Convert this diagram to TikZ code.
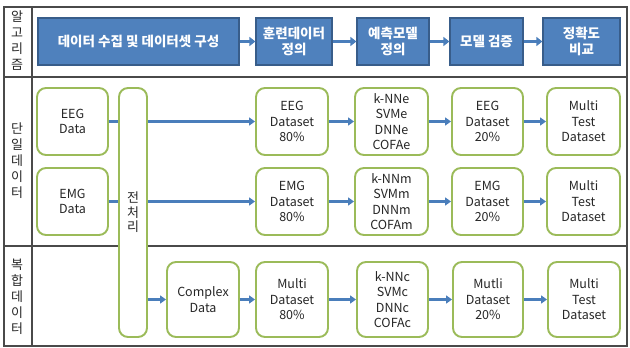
\documentclass[tikz,border=0pt]{standalone}
\usepackage{fontspec}
\setmainfont{Noto Sans CJK KR}
\usetikzlibrary{arrows.meta}
\definecolor{bfill}{HTML}{4F81BD}
\definecolor{bdraw}{HTML}{385D8A}
\definecolor{gdraw}{HTML}{9BBB59}
\definecolor{arr}{HTML}{4A7EBB}
\definecolor{frame}{HTML}{4A4A4A}
\tikzset{
  topbox/.style={draw=bdraw, fill=bfill, line width=1.2pt, text=white, font=\fontsize{13.5}{16}\selectfont\bfseries, align=center, inner sep=0pt, minimum height=47pt},
  gbox/.style={draw=gdraw, fill=white, line width=1.9pt, rounded corners=9pt, align=center, inner sep=0pt, font=\fontsize{12.5}{15.5}\selectfont, text=black!85},
  toparr/.style={draw=arr, line width=3pt, -{Triangle[length=6pt,width=9pt]}},
  rowarr/.style={draw=arr, line width=2.4pt, -{Triangle[length=6pt,width=8pt]}},
  rowline/.style={draw=arr, line width=2.4pt},
  sidelab/.style={align=center, inner sep=0pt, font=\fontsize{13}{16}\selectfont, text=black!85},
  tline/.style={draw=frame, line width=1.8pt}
}
\begin{document}
\begin{tikzpicture}[x=1pt,y=-1pt]
\useasboundingbox (0,0) rectangle (630,348);
% table frame
\draw[tline] (4,7) rectangle (627,346);
\draw[tline] (4,77) -- (627,77);
\draw[tline] (4,246) -- (627,246);
\draw[tline] (32,7) -- (32,346);
% side labels
\node[sidelab] (l1) at (17,41) {알\\고\\리\\즘};
\node[sidelab] (l2) at (17,161) {단\\일\\데\\이\\터};
\node[sidelab] (l3) at (17,297) {복\\합\\데\\이\\터};
% top row
\node[topbox, minimum width=201pt] (b1) at (138.5,41.5) {데이터 수집 및 데이터셋 구성};
\node[topbox, minimum width=76pt] (b2) at (294,41.5) {훈련데이터\\정의};
\node[topbox, minimum width=72pt] (b3) at (393,41.5) {예측모델\\정의};
\node[topbox, minimum width=73pt] (b4) at (486.5,41.5) {모델 검증};
\node[topbox, minimum width=77pt] (b5) at (581.5,41.5) {정확도\\비교};
\draw[toparr] (b1) -- (b2);
\draw[toparr] (b2) -- (b3);
\draw[toparr] (b3) -- (b4);
\draw[toparr] (b4) -- (b5);
% preprocessing
\node[gbox, minimum width=28pt, minimum height=249pt, font=\fontsize{13}{14.5}\selectfont] (pre) at (133,212.5) {전\\처\\리};
% row 1
\node[gbox, minimum width=71pt, minimum height=67pt] (eeg) at (72.5,121.5) {EEG\\Data};
\node[gbox, minimum width=72pt, minimum height=67pt] (eeg80) at (292,121.5) {EEG\\Dataset\\80\%};
\node[gbox, minimum width=73pt, minimum height=67pt] (mode) at (391.5,121.5) {k-NNe\\SVMe\\DNNe\\COFAe};
\node[gbox, minimum width=71pt, minimum height=67pt] (eeg20) at (487.5,121.5) {EEG\\Dataset\\20\%};
\node[gbox, minimum width=73pt, minimum height=67pt] (mte) at (583.5,121.5) {Multi\\Test\\Dataset};
% row 2
\node[gbox, minimum width=71pt, minimum height=67pt] (emg) at (72.5,201.5) {EMG\\Data};
\node[gbox, minimum width=72pt, minimum height=67pt] (emg80) at (292,201.5) {EMG\\Dataset\\80\%};
\node[gbox, minimum width=73pt, minimum height=67pt] (modm) at (391.5,201.5) {k-NNm\\SVMm\\DNNm\\COFAm};
\node[gbox, minimum width=71pt, minimum height=67pt] (emg20) at (487.5,201.5) {EMG\\Dataset\\20\%};
\node[gbox, minimum width=73pt, minimum height=67pt] (mtm) at (583.5,201.5) {Multi\\Test\\Dataset};
% row 3
\node[gbox, minimum width=72pt, minimum height=75pt] (cpx) at (203,299.5) {Complex\\Data};
\node[gbox, minimum width=72pt, minimum height=75pt] (mul80) at (292,299.5) {Multi\\Dataset\\80\%};
\node[gbox, minimum width=71pt, minimum height=75pt] (modc) at (392.5,299.5) {k-NNc\\SVMc\\DNNc\\COFAc};
\node[gbox, minimum width=70pt, minimum height=75pt] (mul20) at (488,299.5) {Mutli\\Dataset\\20\%};
\node[gbox, minimum width=72pt, minimum height=75pt] (mtc) at (584,299.5) {Multi\\Test\\Dataset};
% connectors
\draw[rowline] (eeg.east) -- (pre.west |- eeg.east);
\draw[rowarr] (pre.east |- eeg80.west) -- (eeg80.west);
\draw[rowarr] (eeg80) -- (mode);
\draw[rowarr] (mode) -- (eeg20);
\draw[rowarr] (eeg20) -- (mte);
\draw[rowline] (emg.east) -- (pre.west |- emg.east);
\draw[rowarr] (pre.east |- emg80.west) -- (emg80.west);
\draw[rowarr] (emg80) -- (modm);
\draw[rowarr] (modm) -- (emg20);
\draw[rowarr] (emg20) -- (mtm);
\draw[rowarr] (pre.east |- cpx.west) -- (cpx.west);
\draw[rowarr] (cpx) -- (mul80);
\draw[rowarr] (mul80) -- (modc);
\draw[rowarr] (modc) -- (mul20);
\draw[rowarr] (mul20) -- (mtc);
\end{tikzpicture}
\end{document}
